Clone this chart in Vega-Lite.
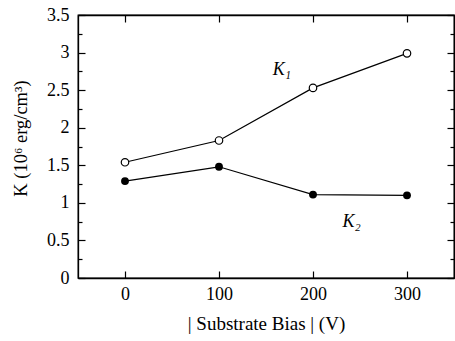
{
  "$schema": "https://vega.github.io/schema/vega-lite/v6.json",
  "width": 376,
  "height": 263,
  "autosize": {"type": "none"},
  "padding": {"left": 78, "top": 15, "right": 1, "bottom": 63},
  "background": "white",
  "config": {
    "view": {"stroke": "black", "strokeWidth": 1.3},
    "font": "Liberation Serif",
    "axis": {
      "grid": false,
      "domainColor": "black",
      "domainWidth": 1.3,
      "tickColor": "black",
      "tickWidth": 1.2,
      "labelColor": "black",
      "titleColor": "black",
      "labelFont": "Liberation Serif",
      "titleFont": "Liberation Serif",
      "labelFontSize": 18,
      "titleFontSize": 18,
      "titleFontWeight": "normal"
    }
  },
  "datasets": {
    "series": [
      {"bias": 0, "K": 1.54, "series": "K1"},
      {"bias": 100, "K": 1.83, "series": "K1"},
      {"bias": 200, "K": 2.53, "series": "K1"},
      {"bias": 300, "K": 2.99, "series": "K1"},
      {"bias": 0, "K": 1.29, "series": "K2"},
      {"bias": 100, "K": 1.48, "series": "K2"},
      {"bias": 200, "K": 1.11, "series": "K2"},
      {"bias": 300, "K": 1.10, "series": "K2"}
    ],
    "labels": [
      {"bias": 167, "K": 2.77, "text": "K₁"},
      {"bias": 241, "K": 0.75, "text": "K₂"}
    ]
  },
  "layer": [
    {
      "data": {"name": "series"},
      "mark": {"type": "line", "color": "black", "strokeWidth": 1.2},
      "encoding": {
        "x": {
          "field": "bias", "type": "quantitative",
          "scale": {"domain": [-50, 350], "nice": false, "zero": false},
          "axis": {
            "orient": "bottom",
            "values": [0, 100, 200, 300],
            "tickSize": -7,
            "labelPadding": 14,
            "labelFont": "Liberation Serif",
            "labelFontSize": 18,
            "titleFont": "Liberation Serif",
            "titleFontSize": 19,
            "title": "| Substrate Bias | (V)",
            "titlePadding": 11
          }
        },
        "y": {
          "field": "K", "type": "quantitative",
          "scale": {"domain": [0, 3.5], "nice": false},
          "axis": {
            "orient": "left",
            "values": [0, 0.25, 0.5, 0.75, 1, 1.25, 1.5, 1.75, 2, 2.25, 2.5, 2.75, 3, 3.25, 3.5],
            "labelExpr": "datum.value % 0.5 == 0 ? format(datum.value, '~g') : ''",
            "tickSize": {"condition": {"test": "datum.value % 0.5 != 0", "value": -4}, "value": -7},
            "labelPadding": 16,
            "labelFont": "Liberation Serif",
            "labelFontSize": 18,
            "titleFont": "Liberation Serif",
            "titleFontSize": 18.5,
            "title": "K (10⁶ erg/cm³)",
            "titleX": -58,
            "titleY": 123,
            "titleBaseline": "middle"
          }
        },
        "detail": {"field": "series"}
      }
    },
    {
      "data": {"name": "series"},
      "transform": [{"filter": "datum.series == 'K1'"}],
      "mark": {"type": "point", "shape": "circle", "filled": true, "fill": "white", "stroke": "black", "strokeWidth": 1.2, "size": 56, "opacity": 1},
      "encoding": {
        "x": {"field": "bias", "type": "quantitative",
          "axis": {"orient": "top", "values": [0, 100, 200, 300], "tickSize": -7, "labels": false, "title": null}},
        "y": {"field": "K", "type": "quantitative",
          "axis": {"orient": "right",
            "values": [0, 0.25, 0.5, 0.75, 1, 1.25, 1.5, 1.75, 2, 2.25, 2.5, 2.75, 3, 3.25, 3.5],
            "tickSize": {"condition": {"test": "datum.value % 0.5 != 0", "value": -4}, "value": -7},
            "labels": false, "title": null}}
      }
    },
    {
      "data": {"name": "series"},
      "transform": [{"filter": "datum.series == 'K2'"}],
      "mark": {"type": "point", "shape": "circle", "filled": true, "color": "black", "size": 62, "opacity": 1},
      "encoding": {
        "x": {"field": "bias", "type": "quantitative", "axis": null},
        "y": {"field": "K", "type": "quantitative", "axis": null}
      }
    },
    {
      "data": {"name": "labels"},
      "mark": {"type": "text", "font": "Liberation Serif", "fontStyle": "italic", "fontSize": 18, "color": "black"},
      "encoding": {
        "x": {"field": "bias", "type": "quantitative", "axis": null},
        "y": {"field": "K", "type": "quantitative", "axis": null},
        "text": {"field": "text"}
      }
    }
  ],
  "resolve": {"axis": {"x": "independent", "y": "independent"}}
}
